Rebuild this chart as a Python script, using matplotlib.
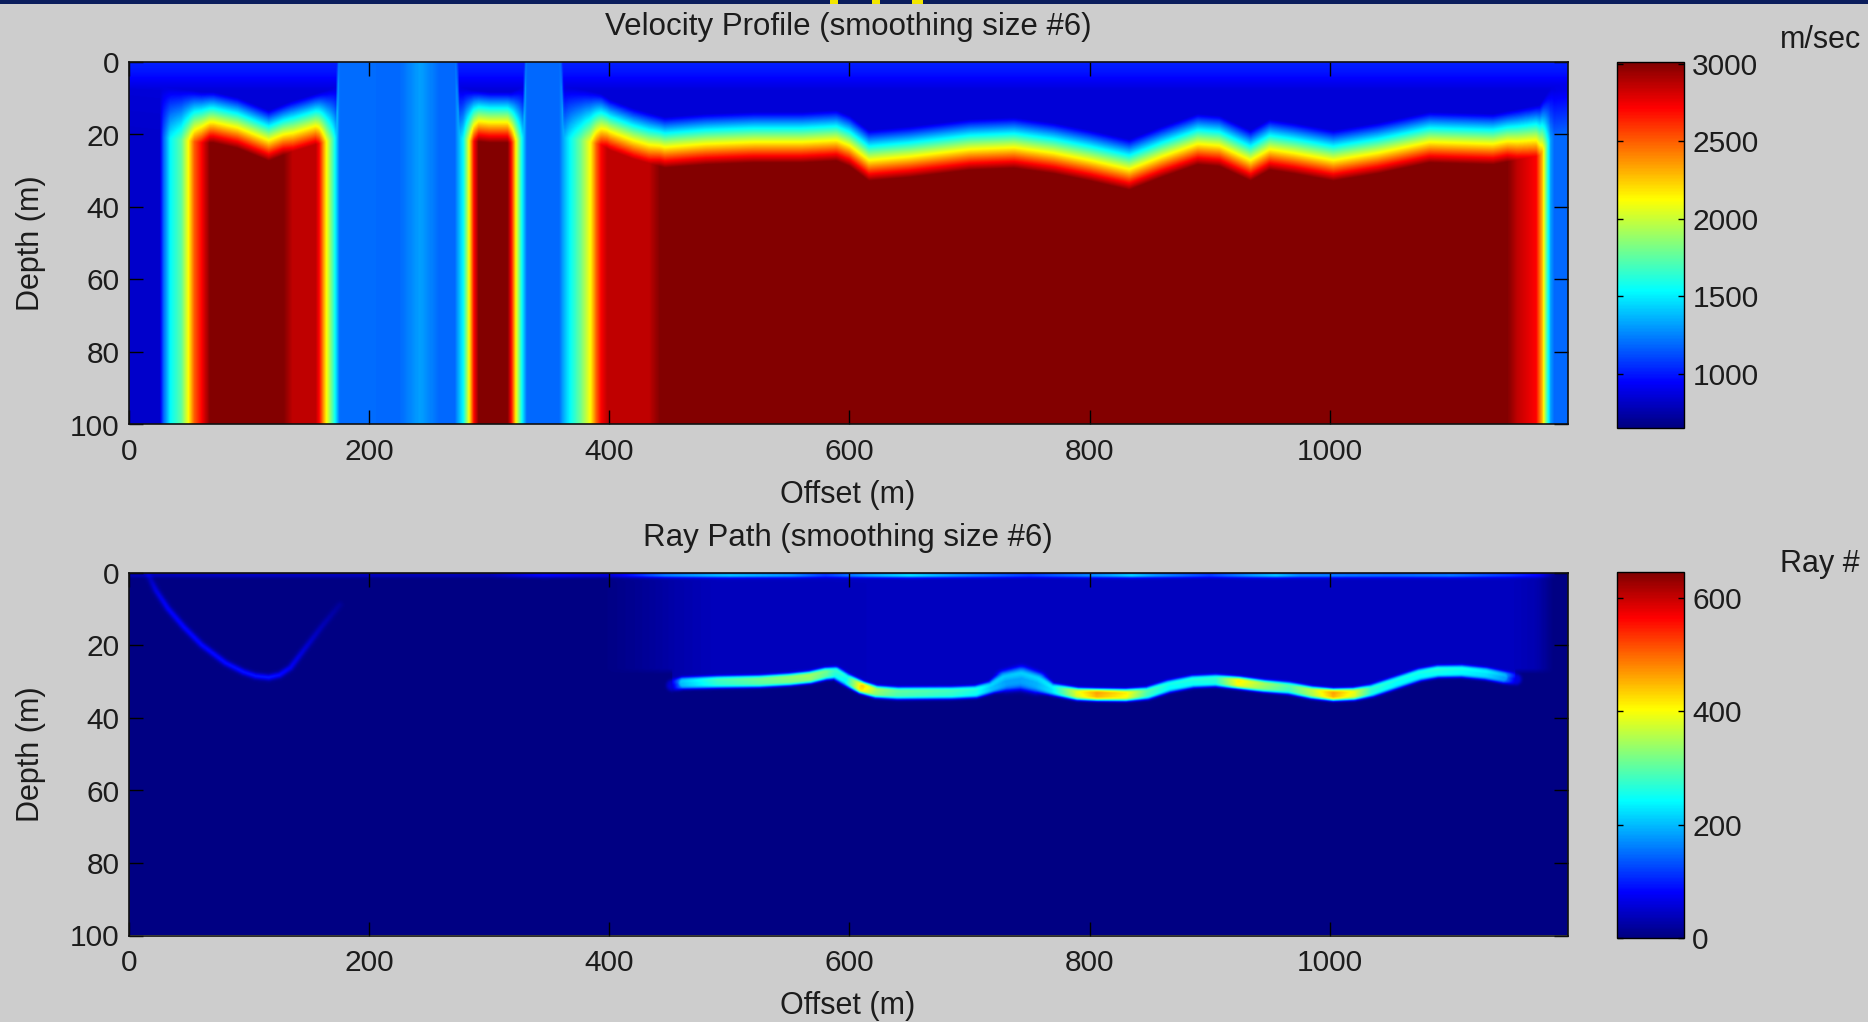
import numpy as np
import matplotlib
matplotlib.use("Agg")
import matplotlib.pyplot as plt
from matplotlib.patches import Rectangle
from matplotlib.colors import LinearSegmentedColormap

plt.rcParams["font.family"] = ["Liberation Sans", "DejaVu Sans"]

# ----- section extent -----------------------------------------------

x_max = 1198.0      # offset (m)
z_max = 100.0       # depth (m)

# ----- velocity model -----------------------------------------------

# velocity below the near-surface layer, by offset (m/sec)
deep_x = [0, 25, 28, 34, 43, 49, 54, 60, 67, 128, 136, 155, 158, 164, 170,
          175, 225, 242, 258, 271, 278, 283, 287, 291, 315, 318, 322, 327,
          331, 358, 361, 367, 376, 384, 389, 393, 398, 433, 442, 1148, 1156,
          1172, 1177, 1181, 1184, 1187, 1198]
deep_v = [830, 830, 1150, 1535, 1750, 2125, 2500, 2715, 3000, 3000, 2860,
          2860, 2715, 2125, 1650, 1200, 1190, 1320, 1190, 1190, 1535, 2125,
          2715, 3000, 3000, 2715, 2125, 1535, 1190, 1190, 1320, 1535, 1800,
          2125, 2500, 2715, 2860, 2860, 3000, 3000, 2860, 2715, 2300, 1700,
          1320, 1190, 1190]

# depth of the layer boundary, by offset (m); negative = column to surface
bound_x = [0, 27, 50, 60, 70, 90, 116, 135, 150, 165, 172, 175, 271, 275,
           285, 300, 318, 328, 331, 358, 362, 380, 393, 400, 420, 446, 480,
           520, 560, 589, 600, 616, 650, 700, 737, 770, 800, 833, 860, 890,
           908, 934, 950, 970, 1003, 1040, 1083, 1136, 1160, 1175, 1185, 1198]
bound_z = [13, 14, 15, 15.5, 15.5, 17, 20.5, 18, 16.5, 15, 14, -10, -10, 14,
           15, 15.5, 15.5, 14, -10, -10, 14, 15, 16, 17.5, 20, 22.4, 21.5,
           21, 21, 20.5, 22, 26, 25, 23, 22.5, 24, 26, 28.5, 25, 21.5, 22,
           26, 23, 24, 26, 24, 21, 21.5, 20, 19, 14, 13]

# near-surface layer velocity by depth
top_z = [0, 3, 8, 100]
top_v = [1020, 990, 860, 850]

vel_ticks = [1000, 1500, 2000, 2500, 3000]

# ----- ray density --------------------------------------------------

# bright band of rays along the refractor
band_x = [452, 461, 490, 525, 550, 567, 580, 588, 597, 610, 622, 640, 685,
          705, 718, 730, 743, 756, 768, 790, 806, 830, 848, 866, 886, 905,
          924, 945, 966, 985, 1003, 1020, 1035, 1055, 1075, 1090, 1110, 1130,
          1145, 1155]
band_z = [31.2, 30.6, 30.3, 30.1, 29.6, 29.0, 28.0, 27.8, 29.6, 31.8, 33.0,
          33.4, 33.3, 33.0, 31.8, 30.0, 29.3, 30.5, 32.3, 33.6, 33.8, 33.9,
          33.4, 31.5, 30.2, 29.9, 30.5, 31.4, 32.0, 33.2, 33.8, 33.6, 32.7,
          30.5, 28.3, 27.4, 27.3, 28.0, 29.0, 29.5]
band_n = [50, 200, 270, 300, 320, 330, 300, 260, 240, 420, 330, 290, 270,
          250, 200, 180, 180, 190, 220, 380, 450, 400, 280, 240, 250, 260,
          400, 330, 280, 350, 450, 380, 260, 240, 240, 250, 240, 220, 180, 60]
band_w = [5.0] * 15 + [8.5, 9.5, 8.5] + [5.0] * 22

# diffuse ray coverage above the refractor
haze_x = [0, 395, 425, 455, 490, 1150, 1172, 1186, 1198]
haze_n = [0, 0, 10, 24, 36, 38, 28, 0, 0]

# rays travelling just below the surface
surf_x = [0, 100, 300, 345, 400, 446, 500, 551, 580, 616, 650, 690, 750,
          817, 835, 855, 900, 934, 955, 975, 1050, 1100, 1175, 1190, 1198]
surf_n = [30, 40, 30, 80, 50, 140, 170, 140, 80, 150, 190, 140, 80, 150,
          180, 140, 80, 140, 170, 130, 110, 120, 50, 0, 0]

# shallow ray arc on the left of the line
arc_x = [16, 22, 32, 45, 60, 80, 95, 105, 116, 125, 134, 145, 160, 175]
arc_z = [1, 5, 10, 15, 20, 25, 27.5, 28.6, 29, 28.3, 26.3, 21.5, 15, 9]
arc_n = [30, 60, 75, 80, 82, 85, 88, 90, 92, 84, 70, 52, 32, 15]

ray_ticks = [0, 200, 400, 600]

# ----- grids --------------------------------------------------------

px_x, px_z = 1.2, 3.62          # pixels per metre along offset / depth
x = np.linspace(0, x_max, 1200)
z = np.linspace(0, z_max, 500)
X, Z = np.meshgrid(x, z)

vd = np.interp(x, deep_x, deep_v)
zb = np.interp(x, bound_x, bound_z)
vu = np.interp(z, top_z, top_v)
s = np.clip((Z - zb[None, :]) / 14.0 + 0.5, 0, 1)
V = vu[:, None] + (vd[None, :] - vu[:, None]) * s


def ridge(xs, zs, vals, widths, power=2):
    # value along a polyline, falling off with screen distance from it
    out = np.zeros_like(X)
    xs, zs = np.asarray(xs, float), np.asarray(zs, float)
    gx, gz = X * px_x, Z * px_z
    for i in range(len(xs) - 1):
        ax_, az_ = xs[i] * px_x, zs[i] * px_z
        dx, dz = xs[i + 1] * px_x - ax_, zs[i + 1] * px_z - az_
        t = np.clip(((gx - ax_) * dx + (gz - az_) * dz) / (dx * dx + dz * dz), 0, 1)
        d = np.hypot(gx - ax_ - t * dx, gz - az_ - t * dz)
        v = vals[i] + t * (vals[i + 1] - vals[i])
        w = widths[i] + t * (widths[i + 1] - widths[i])
        out = np.maximum(out, v * np.exp(-0.5 * (d / w) ** power))
    return out


band_floor = np.interp(x, band_x, band_z, left=28, right=28)
haze = np.interp(x, haze_x, haze_n)[None, :] * np.clip((band_floor[None, :] - Z) / 1.5, 0, 1)
surf = np.interp(x, surf_x, surf_n)[None, :] * np.exp(-((Z - 0.8) * px_z) ** 2 / 6.0)
R = (4 + haze + surf
     + ridge(band_x, band_z, band_n, band_w, power=4)
     + ridge(arc_x, arc_z, arc_n, [2.2] * len(arc_x)))

# MATLAB-style jet
jet = LinearSegmentedColormap.from_list(
    "jet_m", [(0.0, (0, 0, 0.5)), (0.125, (0, 0, 1)), (0.375, (0, 1, 1)),
              (0.625, (1, 1, 0)), (0.875, (1, 0, 0)), (1.0, (0.5, 0, 0))])

# ----- figure -------------------------------------------------------

W, H = 1868, 1022
fig = plt.figure(figsize=(W / 100, H / 100), dpi=100, facecolor="#cdcdcd")


def box(l, t, r, b):
    return [l / W, 1 - b / H, (r - l) / W, (b - t) / H]


ink = "#1c1c1c"
fs = 21.5

# strip of the slide header at the very top
fig.patches.append(Rectangle((0, 1 - 4 / H), 1, 4 / H, transform=fig.transFigure,
                             facecolor="#0b1d5c", edgecolor="none"))
for l, r in [(830, 838), (872, 880), (912, 923)]:
    fig.patches.append(Rectangle((l / W, 1 - 4 / H), (r - l) / W, 4 / H,
                                 transform=fig.transFigure,
                                 facecolor="#f2e600", edgecolor="none"))

panels = [
    (box(129, 62, 1567.5, 424.5), box(1617, 62, 1684, 428), V, 650, 3010,
     vel_ticks, "Velocity Profile (smoothing size #6)", "m/sec", 0),
    (box(129, 573, 1567.5, 935.5), box(1617, 572, 1684, 938), R, 0, 646,
     ray_ticks, "Ray Path (smoothing size #6)", "Ray #", 511),
]

for rect, crect, field, lo, hi, cticks, title, unit, dy in panels:
    ax = fig.add_axes(rect)
    im = ax.imshow(field, extent=[0, x_max, z_max, 0], aspect="auto",
                   cmap=jet, vmin=lo, vmax=hi, interpolation="bilinear")
    ax.set_xlim(0, x_max)
    ax.set_ylim(z_max, 0)
    ax.set_xticks([0, 200, 400, 600, 800, 1000])
    ax.set_yticks([0, 20, 40, 60, 80, 100])
    ax.tick_params(direction="in", length=10, width=1, top=True, right=True,
                   labelsize=fs, labelcolor=ink, pad=10)
    ax.tick_params(axis="y", pad=7)
    for sp in ax.spines.values():
        sp.set_linewidth(1.2)
        sp.set_color("#101010")

    cax = fig.add_axes(crect)
    cb = fig.colorbar(im, cax=cax)
    cb.set_ticks(cticks)
    cb.outline.set_linewidth(1.0)
    cax.tick_params(direction="in", length=4, width=1, left=True, right=True,
                    labelsize=fs, labelcolor=ink, pad=6)

    fig.text(848 / W, 1 - (35 + dy) / H, title, ha="center", va="baseline",
             fontsize=22.5, color=ink)
    fig.text(848 / W, 1 - (503 + dy) / H, "Offset (m)", ha="center",
             va="baseline", fontsize=22, color=ink)
    fig.text(31 / W, 1 - (243 + dy) / H, "Depth (m)", ha="center", va="center",
             rotation=90, fontsize=22, color=ink)
    fig.text(1780 / W, 1 - (48 + dy + (13 if dy else 0)) / H, unit, ha="left",
             va="baseline", fontsize=22, color=ink)

fig.savefig("out.png", dpi=100, facecolor=fig.get_facecolor())
